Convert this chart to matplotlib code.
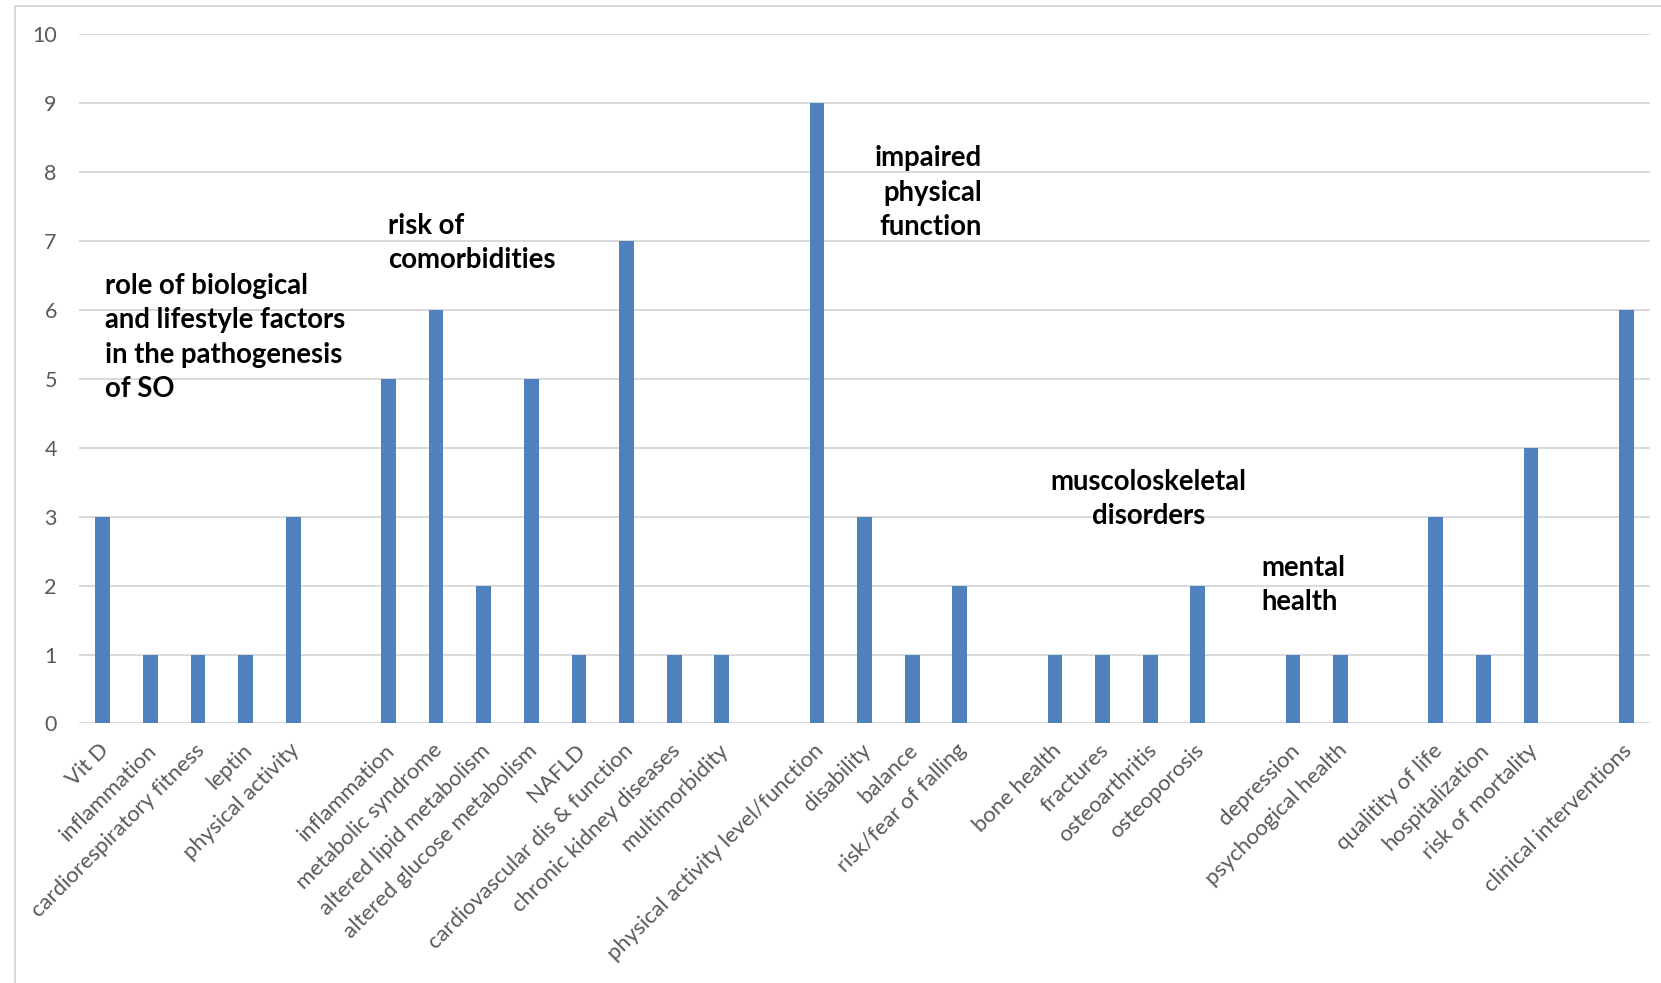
import numpy as np
import matplotlib
matplotlib.use("Agg")
import matplotlib.pyplot as plt
import matplotlib.transforms as mtransforms
from matplotlib.lines import Line2D

plt.rcParams['font.family'] = ['Lato', 'DejaVu Sans']

# categories (empty strings are spacer slots between groups)
labels = ["Vit D", "inflammation", "cardiorespiratory fitness", "leptin", "physical activity", "",
          "inflammation", "metabolic syndrome", "altered lipid metabolism", "altered glucose metabolism",
          "NAFLD", "cardiovascular dis & function", "chronic kidney diseases", "multimorbidity", "",
          "physical activity level/function", "disability", "balance", "risk/fear of falling", "",
          "bone health", "fractures", "osteoarthritis", "osteoporosis", "",
          "depression", "psychoogical health", "",
          "qualitity of life", "hospitalization", "risk of mortality", "",
          "clinical interventions"]
counts = [3, 1, 1, 1, 3, np.nan,
          5, 6, 2, 5, 1, 7, 1, 1, np.nan,
          9, 3, 1, 2, np.nan,
          1, 1, 1, 2, np.nan,
          1, 1, np.nan,
          3, 1, 4, np.nan,
          6]

# group annotations: text, x slot, y value, alignment
groups = [("role of biological\nand lifestyle factors\nin the pathogenesis\nof SO", 0.05, 5.6, 'left'),
          ("risk of\ncomorbidities", 5.99, 6.97, 'left'),
          ("impaired\nphysical\nfunction", 18.47, 7.7, 'right'),
          ("muscoloskeletal\ndisorders", 21.96, 3.26, 'center'),
          ("mental\nhealth", 24.34, 2.01, 'left')]

fig = plt.figure(figsize=(16.61, 9.83), dpi=100)
ax = fig.add_axes([0.0476, 0.264, 0.9458, 0.7014])

x = np.arange(len(labels))
ax.bar(x, counts, width=0.31, color='#4F81BD', zorder=3)

ax.set_xlim(-0.5, len(labels) - 0.5)
ax.set_ylim(0, 10)
ax.set_yticks(range(0, 11))
ax.yaxis.grid(True, color='#D9D9D9', linewidth=1.4, zorder=0)
for s in ax.spines.values():
    s.set_visible(False)
ax.tick_params(axis='y', length=0, pad=16, labelsize=15.5, labelcolor='#595959')
ax.tick_params(axis='x', length=0, pad=12, labelsize=15.9, labelcolor='#595959')
ax.set_xticks(x)
ax.set_xticklabels(labels, rotation=45, ha='right', rotation_mode='anchor')
shift = mtransforms.ScaledTranslation(-4 / 100, 0, fig.dpi_scale_trans)
for lab in ax.get_xticklabels():
    lab.set_transform(lab.get_transform() + shift)

for txt, gx, gy, al in groups:
    ax.text(gx, gy, txt, ha=al, va='center', multialignment=al,
            fontsize=19.8, fontweight='bold', color='black', linespacing=1.4)

# chart frame (left and top edges visible in the crop)
fig.add_artist(Line2D([15 / 1661, 15 / 1661], [0, 1 - 6 / 983], color='#D9D9D9', linewidth=1.4))
fig.add_artist(Line2D([15 / 1661, 1], [1 - 6 / 983, 1 - 6 / 983], color='#D9D9D9', linewidth=1.4))

fig.savefig("out.png", dpi=100)
